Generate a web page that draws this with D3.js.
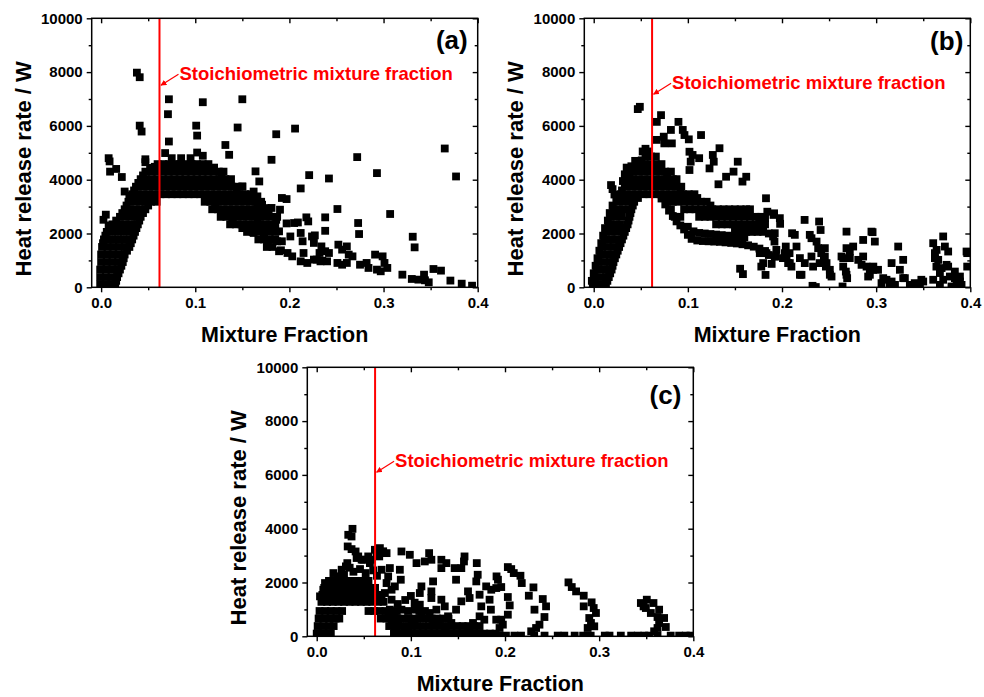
<!DOCTYPE html>
<html>
<head>
<meta charset="utf-8">
<script src="https://cdn.jsdelivr.net/npm/d3@7"></script>
<style>
  body { margin: 0; background: #fff; }
  text { font-family: "Liberation Sans", Arial, sans-serif; font-weight: bold; }
</style>
</head>
<body>
<script>
/*** Axis setup ***/
var xTicks = [0, 0.1, 0.2, 0.3, 0.4];
var xMinor = [0.05, 0.15, 0.25, 0.35];
var yTicks = [0, 2000, 4000, 6000, 8000, 10000];
var yMinor = [1000, 3000, 5000, 7000, 9000];
var stoichZ = 0.062;
var noteText = "Stoichiometric mixture fraction";

/*** Panel (a) data: dense rows are [heat release, z, z, ...], scattered points [z, heat release] ***/
var aRows = [
  [100, -0.001, 0.005, 0.011, 0.015],
  [380, -0.001, 0.005, 0.011, 0.017],
  [660, -0.001, 0.005, 0.011, 0.017, 0.020],
  [940, 0.000, 0.006, 0.012, 0.018, 0.023],
  [1220, 0.000, 0.006, 0.012, 0.018, 0.025],
  [1500, 0.001, 0.007, 0.013, 0.019, 0.025, 0.030, 0.176, 0.182],
  [1780, 0.003, 0.009, 0.015, 0.021, 0.027, 0.033, 0.167, 0.173, 0.179, 0.185],
  [2060, 0.006, 0.012, 0.018, 0.024, 0.030, 0.036, 0.155, 0.161, 0.167, 0.173, 0.179, 0.185],
  [2340, 0.012, 0.018, 0.024, 0.030, 0.036, 0.039, 0.137, 0.143, 0.149, 0.155, 0.161, 0.167, 0.173, 0.179, 0.185],
  [2620, 0.020, 0.026, 0.032, 0.038, 0.042, 0.127, 0.133, 0.139, 0.145, 0.151, 0.157, 0.163, 0.169, 0.175, 0.181, 0.187],
  [2900, 0.025, 0.031, 0.037, 0.043, 0.047, 0.118, 0.124, 0.130, 0.136, 0.142, 0.148, 0.154, 0.160, 0.166, 0.172, 0.178],
  [3180, 0.029, 0.035, 0.041, 0.047, 0.053, 0.059, 0.110, 0.116, 0.122, 0.128, 0.134, 0.140, 0.146, 0.152, 0.158, 0.164, 0.170],
  [3460, 0.033, 0.039, 0.045, 0.051, 0.057, 0.063, 0.069, 0.075, 0.081, 0.087, 0.093, 0.099, 0.105, 0.111, 0.117, 0.123, 0.129, 0.135, 0.141, 0.147, 0.153, 0.159],
  [3740, 0.037, 0.043, 0.049, 0.055, 0.061, 0.067, 0.073, 0.079, 0.085, 0.091, 0.097, 0.103, 0.109, 0.115, 0.121, 0.127, 0.133, 0.139, 0.145, 0.150],
  [4020, 0.042, 0.048, 0.054, 0.060, 0.066, 0.072, 0.078, 0.084, 0.090, 0.096, 0.102, 0.108, 0.114, 0.120, 0.126, 0.132, 0.138],
  [4300, 0.047, 0.053, 0.059, 0.065, 0.071, 0.077, 0.083, 0.089, 0.095, 0.101, 0.107, 0.113, 0.119, 0.125, 0.130],
  [4580, 0.060, 0.066, 0.072, 0.078, 0.084, 0.090, 0.096, 0.102, 0.108, 0.114],
  [4800, 0.075, 0.085, 0.095]
];
var aEdges = [
  [0.016, 240], [0.0185, 520], [0.0215, 800], [0.024, 1080], [0.0275, 1360], [0.0315, 1640],
  [0.0345, 1920], [0.0375, 2200], [0.0405, 2480], [0.0445, 2760], [0.050, 3040], [0.056, 3320],
  [0.002, 1640], [0.0045, 1920], [0.009, 2200], [0.016, 2480], [0.0225, 2760], [0.027, 3040],
  [0.031, 3320], [0.035, 3600], [0.0395, 3880], [0.0445, 4160], [0.052, 4440], [0.057, 4480],
  [0.120, 4450], [0.128, 4160], [0.136, 3880], [0.144, 3600], [0.156, 3320], [0.166, 3040],
  [0.174, 2760], [0.113, 3320], [0.121, 3040], [0.130, 2760], [0.140, 2480], [0.150, 2200]
];
var aPoints = [
  [0.038, 7980], [0.041, 7810], [0.041, 6010], [0.043, 5790], [0.047, 4760], [0.047, 4650],
  [0.008, 4800], [0.009, 4680], [0.0095, 4300], [0.016, 4400], [0.022, 4100], [0.025, 3560],
  [0.030, 3400], [0.005, 2700], [0.0025, 2510], [0.008, 2300], [0.012, 2150],
  [0.072, 6990], [0.071, 6435], [0.072, 5420], [0.068, 4990], [0.108, 6880], [0.101, 6010],
  [0.102, 5640], [0.102, 5010], [0.108, 4890], [0.150, 6990], [0.145, 5940], [0.132, 5290],
  [0.136, 4925], [0.186, 5690], [0.206, 5900], [0.181, 4740], [0.164, 4310], [0.168, 3935],
  [0.192, 3320], [0.197, 3280], [0.150, 3750], [0.171, 3070], [0.181, 2950],
  [0.212, 3675], [0.221, 4170], [0.242, 4045], [0.272, 4840], [0.293, 4245], [0.365, 5160],
  [0.377, 4120], [0.307, 2725], [0.331, 1880], [0.333, 1485], [0.251, 2910], [0.238, 2600],
  [0.238, 2100], [0.218, 2600], [0.220, 2450], [0.273, 2390], [0.274, 1980],
  [0.190, 2885], [0.186, 2510], [0.184, 2170], [0.187, 1710], [0.191, 1375],
  [0.177, 1645], [0.173, 1955], [0.170, 2265], [0.166, 2425], [0.162, 2020], [0.159, 2200],
  [0.175, 2945], [0.166, 3380], [0.162, 3560],
  [0.197, 2375], [0.205, 2390], [0.209, 2410], [0.189, 2080], [0.192, 1710], [0.201, 1890],
  [0.212, 2020], [0.214, 1710], [0.224, 1890], [0.226, 1650], [0.227, 1930],
  [0.189, 1340], [0.198, 1275], [0.203, 1150], [0.215, 1275], [0.212, 965], [0.219, 905],
  [0.226, 1030], [0.229, 1030], [0.232, 1275], [0.235, 990],
  [0.234, 1520], [0.238, 1340], [0.242, 1275], [0.233, 965], [0.240, 965], [0.252, 1585],
  [0.256, 1400], [0.261, 1520], [0.263, 1215], [0.267, 1150], [0.251, 905], [0.256, 840],
  [0.261, 905], [0.275, 840], [0.282, 905], [0.284, 720], [0.291, 1215], [0.293, 657],
  [0.297, 595], [0.299, 1150], [0.301, 905], [0.304, 720],
  [0.320, 470], [0.330, 310], [0.337, 285], [0.343, 470], [0.344, 260], [0.348, 185],
  [0.353, 680], [0.361, 620], [0.371, 250], [0.383, 135], [0.394, 60]
];

/*** Panel (b) data ***/
var bRows = [
  [100, -0.001, 0.005, 0.011, 0.013],
  [380, 0.001, 0.007, 0.013, 0.016],
  [660, 0.003, 0.009, 0.015, 0.019],
  [940, 0.005, 0.011, 0.017, 0.021],
  [1220, 0.007, 0.013, 0.019, 0.024],
  [1500, 0.009, 0.015, 0.021, 0.027],
  [1780, 0.011, 0.017, 0.023, 0.030],
  [2060, 0.013, 0.019, 0.025, 0.033, 0.150, 0.156, 0.162, 0.168, 0.174, 0.180],
  [2340, 0.016, 0.022, 0.028, 0.036, 0.130, 0.136, 0.142, 0.148, 0.154, 0.160, 0.166, 0.172, 0.178, 0.182],
  [2620, 0.018, 0.024, 0.030, 0.038, 0.086, 0.092, 0.112, 0.118, 0.124, 0.130, 0.136, 0.142, 0.148, 0.154, 0.160, 0.166, 0.172, 0.178],
  [2900, 0.021, 0.027, 0.033, 0.040, 0.082, 0.096, 0.102, 0.108, 0.114, 0.120, 0.126, 0.132, 0.138, 0.144, 0.150, 0.156, 0.162, 0.166],
  [3180, 0.025, 0.031, 0.037, 0.043, 0.078, 0.084, 0.090, 0.096, 0.102, 0.108, 0.114, 0.120],
  [3460, 0.029, 0.035, 0.041, 0.047, 0.053, 0.059, 0.065, 0.071, 0.077, 0.083, 0.089, 0.095, 0.101, 0.107],
  [3740, 0.033, 0.039, 0.045, 0.051, 0.057, 0.063, 0.069, 0.075, 0.081, 0.087, 0.093],
  [4020, 0.036, 0.042, 0.048, 0.054, 0.060, 0.066, 0.072, 0.078, 0.084, 0.088],
  [4300, 0.040, 0.046, 0.052, 0.058, 0.064, 0.070, 0.076, 0.082],
  [4580, 0.048, 0.054, 0.060, 0.066, 0.072],
  [4860, 0.055, 0.061, 0.066]
];
var bEdges = [
  [0.0145, 240], [0.0175, 520], [0.020, 800], [0.0225, 1080], [0.0255, 1360], [0.0285, 1640],
  [0.0315, 1920], [0.0345, 2200], [0.037, 2480], [0.039, 2760], [0.0415, 3040], [0.047, 3320],
  [-0.002, 240], [0.000, 520], [0.002, 800], [0.004, 1080], [0.006, 1360], [0.008, 1640],
  [0.010, 1920], [0.012, 2200], [0.015, 2480], [0.017, 2760], [0.020, 3040], [0.025, 3320],
  [0.030, 3600], [0.034, 3880], [0.038, 4160], [0.044, 4440], [0.051, 4720],
  [0.070, 4450], [0.078, 4160], [0.085, 3880], [0.092, 3600], [0.100, 3320], [0.110, 3320],
  [0.124, 3040], [0.140, 2760], [0.160, 2760], [0.176, 2480]
];
var bPoints = [
  [0.072, 3300], [0.076, 3080], [0.080, 2850], [0.084, 2650], [0.088, 2450], [0.092, 2300],
  [0.096, 2150], [0.100, 1950], [0.104, 1800], [0.110, 1740], [0.116, 1720], [0.122, 1710],
  [0.128, 1700], [0.134, 1690], [0.140, 1670], [0.146, 1650], [0.152, 1630], [0.158, 1600],
  [0.164, 1560], [0.170, 1510], [0.176, 1440], [0.182, 1350], [0.186, 1200],
  [0.100, 2250], [0.106, 2080], [0.112, 2020], [0.118, 2000], [0.124, 1980], [0.130, 1960],
  [0.136, 1940], [0.142, 1920], [0.148, 1900], [0.154, 1880], [0.160, 1860],
  [0.0184, 3800], [0.020, 3650], [0.022, 3450], [0.024, 3300], [0.031, 3950], [0.033, 4200],
  [0.035, 4450], [0.040, 4500], [0.044, 4700], [0.052, 5050], [0.055, 5150], [0.058, 5050],
  [0.0468, 6625], [0.049, 6710], [0.0715, 6400], [0.067, 6150], [0.090, 6150], [0.082, 5850],
  [0.0744, 5600], [0.067, 5480], [0.075, 5350], [0.083, 5350], [0.0946, 5850], [0.0964, 5660],
  [0.101, 5500], [0.114, 5660], [0.1017, 5040], [0.105, 4920], [0.112, 4800], [0.103, 4670],
  [0.1017, 4360], [0.1336, 5170], [0.1265, 4920], [0.1275, 4670], [0.123, 4420], [0.153, 4670],
  [0.1485, 4300], [0.1406, 4110], [0.1325, 3830], [0.162, 4110], [0.158, 3930], [0.183, 3310],
  [0.1844, 2810], [0.191, 2690], [0.182, 2570], [0.1555, 690], [0.1585, 490], [0.178, 770],
  [0.1825, 460],
  [0.1916, 2750], [0.1977, 2570], [0.198, 2360], [0.224, 2505], [0.2394, 2445], [0.241, 2130],
  [0.2107, 2010], [0.2136, 1950], [0.2154, 1515], [0.204, 1515], [0.208, 1270], [0.201, 1085],
  [0.2065, 900], [0.210, 770], [0.1905, 1890], [0.194, 1390], [0.1934, 1145], [0.189, 870],
  [0.1835, 1270], [0.180, 900], [0.1764, 1270], [0.219, 1085], [0.2242, 900], [0.2207, 465],
  [0.2313, 1145], [0.233, 770], [0.2384, 1455], [0.2417, 1270], [0.2445, 1020], [0.2466, 770],
  [0.2508, 650], [0.2526, 400], [0.240, 900], [0.2324, 55], [0.2359, 10], [0.2295, 1950],
  [0.2313, 1825], [0.2367, 1700], [0.2455, 1455], [0.2455, 1145], [0.2473, 900], [0.2508, 465],
  [0.2632, 1145], [0.265, 770], [0.2678, 585], [0.2692, 340], [0.2685, 1455], [0.2756, 1515],
  [0.2685, 2070], [0.272, 1085], [0.2643, 30], [0.272, 1330], [0.265, 1085], [0.2685, 465],
  [0.281, 1020], [0.2845, 835], [0.2862, 1145], [0.2898, 770], [0.2915, 400], [0.2933, 650],
  [0.2862, 1760], [0.2962, 2050], [0.2986, 1700], [0.297, 770], [0.295, 2070], [0.2968, 650],
  [0.2933, 465], [0.302, 650], [0.3075, 340], [0.3057, 155], [0.311, 280], [0.3146, 90],
  [0.3164, 900], [0.3234, 1515], [0.3287, 1020], [0.3252, 650], [0.3305, 340], [0.3358, 90],
  [0.3164, 215], [0.320, 90], [0.3287, 340], [0.3394, 30], [0.348, 280],
  [0.341, 155], [0.350, 215], [0.3465, 30], [0.3606, 1640], [0.3624, 1270], [0.3659, 1020],
  [0.3712, 1890], [0.373, 1515], [0.3765, 1330], [0.364, 770], [0.3677, 530], [0.3606, 280],
  [0.3712, 280], [0.3765, 770], [0.3783, 400], [0.3836, 585], [0.389, 400], [0.3854, 155],
  [0.3907, 90], [0.380, 30], [0.3677, 90], [0.3967, 1270], [0.3967, 770], [0.3642, 1390],
  [0.3624, 1085], [0.3695, 715], [0.3748, 835], [0.3836, 340], [0.389, 215], [0.396, 1330],
  [0.1923, 2010], [0.1923, 1145], [0.203, 1270], [0.2048, 1085], [0.2083, 900], [0.219, 465],
  [0.170, 2200], [0.176, 2400], [0.186, 2000], [0.192, 1700]
];

/*** Panel (c) data ***/
var cRows = [
  [100, 0.000, 0.006, 0.012, 0.015, 0.082, 0.088, 0.094, 0.100, 0.106, 0.112, 0.118, 0.124, 0.130, 0.136, 0.142, 0.148, 0.154, 0.160, 0.166, 0.172, 0.178, 0.184, 0.190],
  [380, 0.001, 0.007, 0.013, 0.018, 0.077, 0.083, 0.089, 0.095, 0.101, 0.107, 0.113, 0.119, 0.125, 0.131, 0.137, 0.143, 0.149, 0.155, 0.161, 0.167, 0.173],
  [660, 0.002, 0.008, 0.014, 0.020, 0.024, 0.068, 0.074, 0.080, 0.086, 0.092, 0.098, 0.104, 0.110, 0.116, 0.122, 0.128, 0.134, 0.140],
  [940, 0.003, 0.009, 0.015, 0.021, 0.027, 0.055, 0.061, 0.067, 0.073, 0.085, 0.097, 0.109, 0.115],
  [1280, 0.005, 0.011, 0.017, 0.023, 0.029, 0.035, 0.041, 0.047, 0.053, 0.059, 0.065, 0.071],
  [1540, 0.006, 0.012, 0.018, 0.024, 0.030, 0.036, 0.042, 0.048, 0.054, 0.060, 0.066],
  [1800, 0.008, 0.014, 0.020, 0.026, 0.032, 0.038, 0.044, 0.050, 0.056, 0.062],
  [2060, 0.013, 0.020, 0.027, 0.034, 0.041, 0.048, 0.055]
];
var cPoints = [
  [0.038, 3995], [0.0335, 3773], [0.037, 3711], [0.0329, 3340], [0.037, 3241], [0.0413, 3154],
  [0.0441, 2969], [0.0494, 2845], [0.0547, 2969], [0.0583, 2845], [0.0618, 3216], [0.0671, 3278],
  [0.0742, 3092], [0.0636, 3030], [0.0177, 2350], [0.023, 2230], [0.0265, 2475], [0.031, 2600],
  [0.0325, 2720], [0.0035, 1485], [0.007, 1730], [0.0088, 1980], [0.0424, 2910], [0.0477, 2850],
  [0.0565, 2720], [0.0706, 3160], [0.0664, 2970], [0.039, 2400], [0.046, 2500], [0.052, 2350],
  [0.060, 2450], [0.064, 2250], [0.029, 2300], [0.035, 2550],
  [0.090, 3154], [0.0989, 3030], [0.106, 2721], [0.1194, 3092], [0.1218, 2845], [0.1148, 2783],
  [0.1324, 2845], [0.1377, 2721], [0.1324, 2535], [0.157, 2969], [0.1564, 2783], [0.170, 2721],
  [0.1536, 2535], [0.1465, 2535], [0.148, 2103], [0.180, 1855], [0.191, 2227], [0.1925, 2103],
  [0.171, 2288], [0.1695, 2041], [0.1607, 1670], [0.1624, 1423], [0.173, 1546], [0.1836, 1361],
  [0.1536, 1299], [0.148, 990], [0.1395, 742], [0.143, 495], [0.136, 371], [0.1748, 1113],
  [0.173, 742], [0.166, 495], [0.1624, 309], [0.178, 618], [0.185, 990], [0.1236, 2041],
  [0.1218, 1670], [0.1112, 1855], [0.1218, 1423], [0.1324, 1361], [0.1271, 990], [0.136, 1113],
  [0.120, 866], [0.1236, 618], [0.129, 433], [0.1095, 1608], [0.1095, 1175], [0.1042, 990],
  [0.1112, 742], [0.1006, 618], [0.1042, 433], [0.0971, 371], [0.0936, 186], [0.0893, 2103],
  [0.083, 1855], [0.0795, 1732], [0.0883, 2474], [0.0777, 2536], [0.0689, 2474], [0.0759, 2227],
  [0.0742, 1979], [0.0724, 1608], [0.0689, 1423], [0.0795, 1361], [0.0777, 990], [0.0759, 804],
  [0.083, 742], [0.090, 990], [0.0865, 618], [0.0795, 433], [0.0847, 247], [0.1854, 1732],
  [0.1907, 1794], [0.086, 1200], [0.094, 1350], [0.100, 1500], [0.104, 1250],
  [0.203, 2573], [0.2066, 2499], [0.2093, 2350], [0.2164, 2251], [0.2178, 1979], [0.196, 1831],
  [0.203, 1460], [0.205, 1150], [0.203, 804], [0.2302, 1818], [0.2253, 1509], [0.2313, 990],
  [0.2401, 1385], [0.2436, 1113], [0.2419, 717], [0.2366, 433], [0.233, 309], [0.2278, 186],
  [0.196, 618], [0.1977, 433], [0.1942, 309], [0.1907, 618], [0.2674, 2004], [0.2709, 1831],
  [0.2755, 1670], [0.2836, 1509], [0.292, 1262], [0.2942, 1051], [0.2966, 866], [0.2895, 680],
  [0.2913, 495], [0.2878, 309], [0.2948, 371], [0.2836, 1113], [0.3443, 1237], [0.3506, 1361],
  [0.3577, 1237], [0.3637, 990], [0.369, 680], [0.3708, 346], [0.3496, 1051], [0.3549, 866],
  [0.362, 717], [0.3472, 1113], [0.3637, 495], [0.362, 309], [0.3584, 186],
  [0.194, 25], [0.201, 25], [0.210, 25], [0.217, 25], [0.231, 25], [0.242, 25], [0.256, 25],
  [0.263, 25], [0.274, 25], [0.283, 25], [0.291, 25], [0.306, 25], [0.311, 25], [0.323, 25],
  [0.334, 25], [0.341, 25], [0.348, 25], [0.353, 25], [0.362, 25], [0.376, 25], [0.385, 25],
  [0.392, 25], [0.397, 25]
];

/*** Panel layout ***/
var w = 386, h = 269, size = 7.8;
var panels = [
  {id: "a", left: 91.7, top: 18.3, rows: aRows, points: aPoints.concat(aEdges), tag: "(a)", tagX: 376, tagY: 31, noteY: 62},
  {id: "b", left: 584.3, top: 18.3, rows: bRows, points: bPoints.concat(bEdges), tag: "(b)", tagX: 379, tagY: 32, noteY: 71},
  {id: "c", left: 307.3, top: 367.3, rows: cRows, points: cPoints, tag: "(c)", tagX: 374, tagY: 37, noteY: 100}
];

var svg = d3.select("body").append("svg")
  .attr("width", 984)
  .attr("height", 697);

var defs = svg.append("defs");
defs.append("marker")
  .attr("id", "arrow")
  .attr("viewBox", "0 0 10 10")
  .attr("refX", 9).attr("refY", 5)
  .attr("markerWidth", 5).attr("markerHeight", 5)
  .attr("orient", "auto")
  .append("path")
  .attr("d", "M0,0 L10,5 L0,10 z")
  .attr("fill", "red");

function drawPanel(p) {
  var g = svg.append("g").attr("transform", "translate(" + p.left + "," + p.top + ")");

  var xScale = d3.scaleLinear().domain([-0.01, 0.4]).range([0, w]);
  var yScale = d3.scaleLinear().domain([0, 10000]).range([h, 0]);

  // flatten dense rows into [z, q] pairs
  var pts = p.points.slice();
  p.rows.forEach(function(r) {
    for (var i = 1; i < r.length; i++) pts.push([r[i], r[0]]);
  });

  defs.append("clipPath").attr("id", "clip-" + p.id)
    .append("rect").attr("width", w).attr("height", h);

  g.append("g")
    .attr("clip-path", "url(#clip-" + p.id + ")")
    .selectAll("rect")
    .data(pts)
    .enter().append("rect")
      .attr("x", function(d) { return xScale(d[0]) - size / 2; })
      .attr("y", function(d) { return yScale(d[1]) - size / 2; })
      .attr("width", size)
      .attr("height", size)
      .attr("fill", "#000");

  /*** Stoichiometric line ***/
  var sx = xScale(stoichZ);
  g.append("line")
    .attr("x1", sx).attr("x2", sx)
    .attr("y1", yScale(0)).attr("y2", yScale(10000))
    .attr("stroke", "red")
    .attr("stroke-width", 2);

  g.append("line")
    .attr("x1", sx + 19).attr("y1", p.noteY - 6)
    .attr("x2", sx + 1.5).attr("y2", p.noteY + 5)
    .attr("stroke", "red")
    .attr("stroke-width", 1.2)
    .attr("marker-end", "url(#arrow)");

  g.append("text")
    .attr("x", sx + 20)
    .attr("y", p.noteY)
    .attr("fill", "red")
    .style("font-size", "18.5px")
    .text(noteText);

  /*** Axes ***/
  var xAxis = d3.axisBottom(xScale).tickValues(xTicks).tickSize(5).tickPadding(5)
    .tickFormat(d3.format(".1f"));
  var xAxisMinor = d3.axisBottom(xScale).tickValues(xMinor).tickSize(3).tickFormat("");
  var xTop = d3.axisTop(xScale).tickValues(xTicks).tickSize(-5).tickFormat("");
  var xTopMinor = d3.axisTop(xScale).tickValues(xMinor).tickSize(-3).tickFormat("");
  var yAxis = d3.axisLeft(yScale).tickValues(yTicks).tickSize(5).tickPadding(4)
    .tickFormat(d3.format("d"));
  var yAxisMinor = d3.axisLeft(yScale).tickValues(yMinor).tickSize(3).tickFormat("");
  var yRight = d3.axisRight(yScale).tickValues(yTicks).tickSize(-5).tickFormat("");
  var yRightMinor = d3.axisRight(yScale).tickValues(yMinor).tickSize(-3).tickFormat("");

  var axes = [
    [xAxis, "translate(0," + h + ")"],
    [xAxisMinor, "translate(0," + h + ")"],
    [xTop, null], [xTopMinor, null],
    [yAxis, null], [yAxisMinor, null],
    [yRight, "translate(" + w + ",0)"], [yRightMinor, "translate(" + w + ",0)"]
  ];
  axes.forEach(function(a) {
    var ag = g.append("g").call(a[0]);
    if (a[1]) ag.attr("transform", a[1]);
    ag.select(".domain").remove();
    ag.selectAll("line").attr("stroke", "#000").attr("stroke-width", 1.4);
    ag.selectAll("text")
      .attr("fill", "#000")
      .style("font-size", "15px")
      .style("font-family", "'Liberation Sans', Arial, sans-serif")
      .style("font-weight", "bold");
  });

  g.append("rect")
    .attr("width", w).attr("height", h)
    .attr("fill", "none")
    .attr("stroke", "#000")
    .attr("stroke-width", 1.5);

  /*** Titles ***/
  g.append("text")
    .attr("x", w / 2)
    .attr("y", h + 55)
    .attr("text-anchor", "middle")
    .style("font-size", "21.5px")
    .text("Mixture Fraction");

  g.append("text")
    .attr("transform", "translate(-61," + (h / 2 + 16) + ")rotate(-90)")
    .attr("text-anchor", "middle")
    .style("font-size", "22px")
    .text("Heat release rate / W");

  g.append("text")
    .attr("x", p.tagX)
    .attr("y", p.tagY)
    .attr("text-anchor", "end")
    .style("font-size", "26px")
    .text(p.tag);
}

panels.forEach(drawPanel);
</script>
</body>
</html>
